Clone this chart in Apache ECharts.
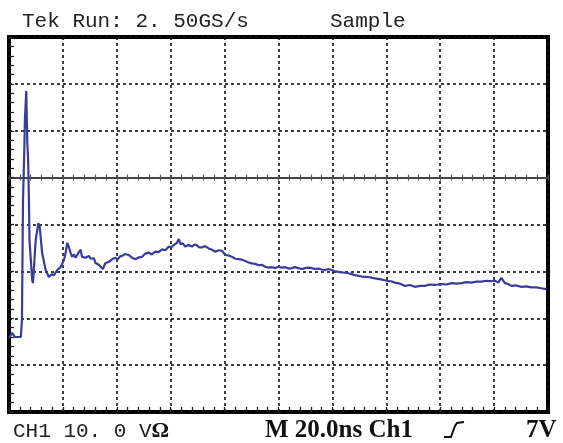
<!DOCTYPE html>
<html>
<head>
<meta charset="utf-8">
<script src="https://cdn.jsdelivr.net/npm/echarts@6/dist/echarts.min.js"></script>
<style>html,body{margin:0;padding:0;background:#fff;}#chart{width:563px;height:443px;}</style>
</head>
<body>
<div id="chart"></div>
<script>
// Time axis: 20 ns/div, 10 divisions; Voltage axis: 10 V/div, 8 divisions
const timeRange = [0, 200];
const timeStep = 20;
const voltRange = [-50, 30];
const voltStep = 10;

const timeNs = [0,1.1,2.2,4.4,4.8,5.2,5.7,5.9,6.4,6.8,7.1,7.4,7.6,8.6,8.9,9.9,10.9,11.4,12.3,13.6,14.8,15.8,16.7,17.9,19.1,20.4,21.0,21.6,22.2,22.9,23.4,24.1,24.7,25.9,26.6,27.1,27.8,28.4,29.6,30.3,30.9,31.5,32.1,33.3,34.0,34.8,35.8,36.4,37.0,37.7,38.6,39.5,40.3,41.2,42.0,43.0,44.4,45.1,45.7,46.9,48.2,49.4,50.6,51.9,53.0,54.3,55.5,56.8,58.0,59.3,60.2,61.1,62.3,63.0,63.6,64.4,65.4,66.6,67.9,68.8,69.7,70.6,71.6,72.8,74.1,75.3,76.6,77.8,79.0,79.7,80.3,81.5,82.7,84.0,85.2,86.4,87.7,88.9,90.1,91.3,92.6,93.8,95.1,96.3,97.5,98.8,100.0,101.2,102.5,103.7,104.9,106.1,107.4,108.6,109.9,111.1,112.3,113.5,114.8,116.0,117.3,118.5,119.7,121.0,122.2,123.4,124.7,125.9,128.4,130.9,133.3,135.8,138.0,140.1,141.7,143.2,145.0,146.9,148.8,150.6,152.5,154.3,156.1,158.0,160.5,162.3,164.2,166.0,167.9,169.7,171.6,173.4,175.3,177.2,179.0,180.3,181.5,182.7,184.0,185.2,186.4,188.3,190.1,192.0,193.8,195.7,197.5,199.4];

const ch1Volts = [-34.2,-33.1,-34.0,-34.0,-30.4,-4.8,6.5,12.3,18.5,7.4,3.8,-4.8,-13.3,-21.8,-22.5,-13.3,-9.7,-10.5,-16.1,-19.7,-21.2,-20.6,-20.8,-19.7,-19.1,-17.6,-16.1,-13.9,-14.8,-16.1,-16.9,-16.4,-17.1,-15.9,-15.4,-16.9,-16.6,-17.1,-16.7,-17.3,-17.6,-17.2,-18.2,-18.6,-18.9,-19.5,-18.2,-18.4,-18.0,-17.9,-17.3,-17.1,-17.5,-16.8,-16.7,-16.3,-16.5,-16.2,-17.1,-17.4,-17.0,-16.9,-16.2,-16.0,-16.4,-15.8,-15.9,-15.3,-15.5,-14.7,-14.9,-14.4,-13.9,-13.1,-14.2,-14.0,-14.7,-14.4,-14.7,-14.3,-14.4,-14.9,-14.9,-14.6,-15.1,-15.4,-15.8,-15.5,-15.6,-15.3,-16.5,-16.6,-16.9,-17.3,-17.4,-17.5,-17.8,-18.1,-18.3,-18.4,-18.7,-18.6,-19.0,-19.2,-19.1,-19.3,-19.0,-19.2,-19.1,-19.4,-19.3,-19.1,-19.3,-19.5,-19.3,-19.2,-19.3,-19.5,-19.4,-19.6,-19.7,-19.5,-19.7,-20.0,-20.1,-20.2,-20.3,-20.4,-20.8,-21.1,-21.2,-21.5,-21.7,-22.0,-22.1,-22.4,-22.6,-23.1,-22.9,-23.3,-23.1,-23.1,-22.8,-22.9,-22.7,-22.8,-22.5,-22.6,-22.5,-22.3,-22.4,-22.2,-22.2,-22.0,-22.1,-22.0,-22.4,-21.4,-22.5,-22.7,-23.1,-23.0,-23.3,-23.2,-23.4,-23.4,-23.6,-23.8];

const headerLeft = 'Tek Run: 2. 50GS/s';
const headerMode = 'Sample';
const footerChannel = 'CH1 10. 0 V';
const footerOhm = 'Ω';
const footerTime = 'M 20.0ns Ch1';
const footerLevel = '7V';

const chart = echarts.init(document.getElementById('chart'), null, {renderer: 'canvas'});
const pts = timeNs.map((t, i) => [t, ch1Volts[i]]);

const dotted = {color: '#111', width: 1.6, type: [3, 3]};
const hiddenAxis = {show: false};

const option = {
  backgroundColor: '#fff',
  animation: false,
  grid: {left: 9, right: 15, top: 37, bottom: 31, show: true, borderColor: '#000', borderWidth: 4, backgroundColor: 'transparent'},
  xAxis: [
    {type: 'value', min: timeRange[0], max: timeRange[1], interval: timeStep, position: 'bottom',
     axisLine: {show: false, onZero: false}, axisLabel: hiddenAxis,
     axisTick: {show: true, inside: true, length: 5, lineStyle: {color: '#222', width: 1.3}},
     minorTick: {show: true, splitNumber: 5, length: 5, lineStyle: {color: '#222', width: 1.3}},
     splitLine: {show: true, lineStyle: dotted}},
    {type: 'value', min: timeRange[0], max: timeRange[1], interval: timeStep, position: 'bottom',
     axisLine: {show: true, onZero: true, onZeroAxisIndex: 0, lineStyle: {color: '#444', width: 1.8}},
     axisLabel: hiddenAxis,
     axisTick: {show: true, inside: true, length: 3, lineStyle: {color: '#555', width: 1.2}},
     minorTick: {show: true, splitNumber: 5, length: 3, lineStyle: {color: '#555', width: 1.2}},
     splitLine: hiddenAxis},
    {type: 'value', min: timeRange[0], max: timeRange[1], interval: timeStep, position: 'top',
     axisLine: {show: true, onZero: true, onZeroAxisIndex: 0, lineStyle: {color: '#444', width: 1.8}},
     axisLabel: hiddenAxis,
     axisTick: {show: true, inside: true, length: 3, lineStyle: {color: '#555', width: 1.2}},
     minorTick: {show: true, splitNumber: 5, length: 3, lineStyle: {color: '#555', width: 1.2}},
     splitLine: hiddenAxis}
  ],
  yAxis: [
    {type: 'value', min: voltRange[0], max: voltRange[1], interval: voltStep, position: 'left',
     axisLine: {show: false, onZero: false}, axisLabel: hiddenAxis,
     axisTick: {show: true, inside: true, length: 5, lineStyle: {color: '#222', width: 1.3}},
     minorTick: {show: true, splitNumber: 5, length: 5, lineStyle: {color: '#222', width: 1.3}},
     splitLine: {show: true, lineStyle: dotted}}
  ],
  series: [{
    type: 'line', xAxisIndex: 0, yAxisIndex: 0, data: pts, showSymbol: false, symbol: 'none',
    lineStyle: {color: '#3a3c9c', width: 2.2}, z: 5
  }],
  graphic: [
    {type: 'text', left: 22, top: 11, style: {text: headerLeft, font: '21px "Liberation Mono", monospace', fill: '#222'}},
    {type: 'text', left: 330, top: 11, style: {text: headerMode, font: '21px "Liberation Mono", monospace', fill: '#222'}},
    {type: 'text', left: 13, top: 420, style: {
      text: '{a|' + footerChannel + '}{b|' + footerOhm + '}',
      rich: {a: {font: '21px "Liberation Mono", monospace', fill: '#222'}, b: {font: 'bold 22px "Liberation Serif", serif', fill: '#111'}}}},
    {type: 'text', left: 265, top: 418, style: {text: footerTime, font: 'bold 25px "Liberation Serif", serif', fill: '#111'}},
    {type: 'polyline', shape: {points: [[444, 437], [451, 437], [455, 426], [457, 423], [464, 422]]}, style: {stroke: '#111', lineWidth: 2, fill: null}},
    {type: 'text', left: 526, top: 418, style: {text: footerLevel, font: 'bold 25px "Liberation Serif", serif', fill: '#111'}}
  ]
};
chart.setOption(option);
</script>
</body>
</html>
